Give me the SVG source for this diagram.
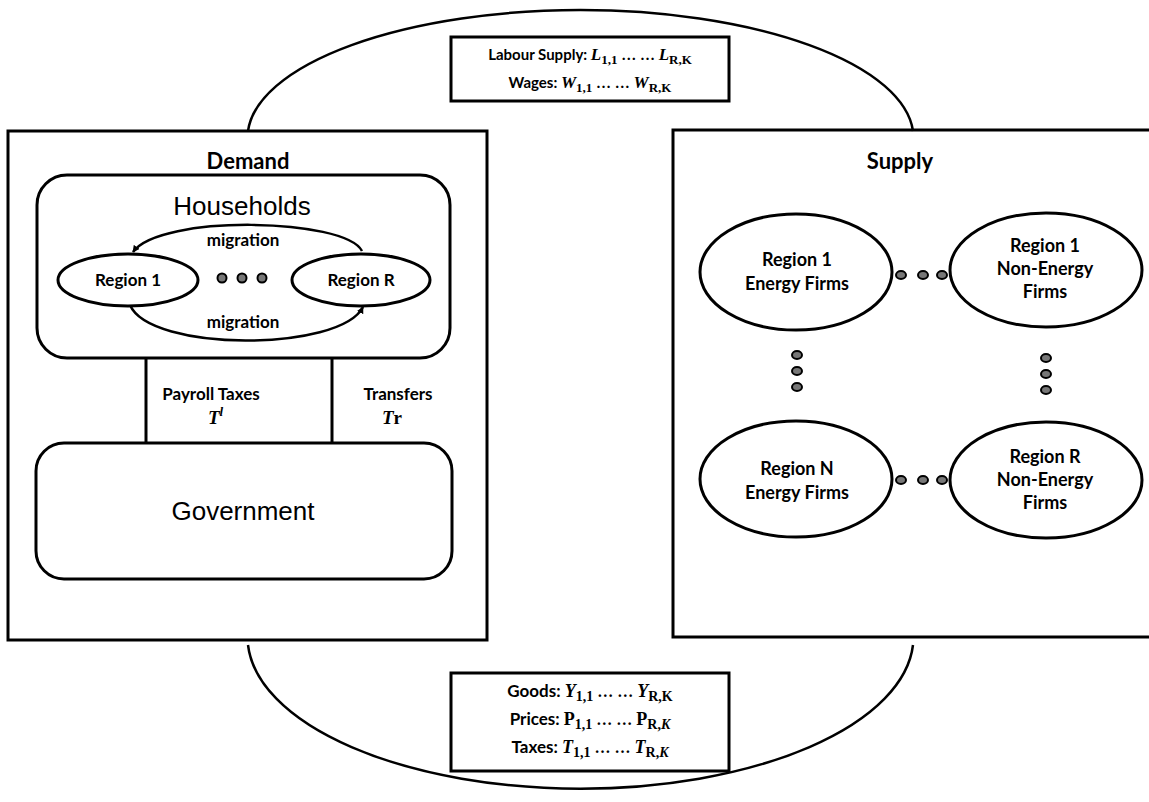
<svg xmlns="http://www.w3.org/2000/svg" width="1149" height="802" viewBox="0 0 1149 802">
<defs>
<style>
.box{fill:none;stroke:#000;stroke-width:3}
.ell{fill:#fff;stroke:#000;stroke-width:3}
.arc{fill:none;stroke:#000;stroke-width:2.5}
.b{font-family:Lato,"Open Sans","Liberation Sans",sans-serif;font-weight:bold;fill:#000;text-anchor:middle}
.big{font-family:"Liberation Sans",Arial,sans-serif;fill:#000;text-anchor:middle}
.m{font-family:"Liberation Serif","Times New Roman",serif;font-style:italic;font-weight:bold}
.r{font-family:"Liberation Serif","Times New Roman",serif;font-weight:bold}
.sub{font-family:"Liberation Serif","Times New Roman",serif;font-weight:bold}
.dot{fill:#777;stroke:#000;stroke-width:2}
</style>
<marker id="ah" viewBox="0 0 10 10" refX="9" refY="5" markerWidth="7" markerHeight="7" orient="auto" markerUnits="userSpaceOnUse">
<path d="M0,0 L10,5 L0,10 z" fill="#000"/>
</marker>
</defs>
<rect width="1149" height="802" fill="#fff"/>

<g id="connectors">
<path class="arc" d="M248,131 A333,128 0 0 1 913,131"/>
<path class="arc" d="M248,645 A333,152 0 0 0 913,645"/>
<line x1="146" y1="358" x2="146" y2="443" stroke="#000" stroke-width="3"/>
<line x1="332" y1="358" x2="332" y2="443" stroke="#000" stroke-width="3"/>
<path class="arc" d="M362,251 C345,218 160,214 133,252" marker-end="url(#ah)"/>
<path class="arc" d="M130,305 C150,352 340,352 363,307" marker-end="url(#ah)"/>
</g>

<g id="labour">
<rect class="box" x="451" y="37" width="278" height="64"/>
<text class="b" x="590" y="60" font-size="15">Labour Supply: <tspan class="m" font-size="17">L</tspan><tspan class="sub" font-size="13" dy="4">1,1</tspan><tspan class="r" font-size="15" dy="-4"> … … </tspan><tspan class="m" font-size="17">L</tspan><tspan class="sub" font-size="13" dy="4">R,K</tspan></text>
<text class="b" x="590" y="88" font-size="15">Wages: <tspan class="m" font-size="17">W</tspan><tspan class="sub" font-size="13" dy="4">1,1</tspan><tspan class="r" font-size="15" dy="-4"> … … </tspan><tspan class="m" font-size="17">W</tspan><tspan class="sub" font-size="13" dy="4">R,K</tspan></text>
</g>

<g id="goods">
<rect class="box" x="451" y="673" width="278" height="98"/>
<text class="b" x="590" y="697" font-size="17">Goods: <tspan class="m" font-size="18">Y</tspan><tspan class="sub" font-size="14" dy="4">1,1</tspan><tspan class="r" font-size="16" dy="-4"> … … </tspan><tspan class="m" font-size="18">Y</tspan><tspan class="sub" font-size="14" dy="4">R,K</tspan></text>
<text class="b" x="590" y="725" font-size="17">Prices: <tspan class="r" font-size="18">P</tspan><tspan class="sub" font-size="14" dy="4">1,1</tspan><tspan class="r" font-size="16" dy="-4">  … … </tspan><tspan class="r" font-size="18">P</tspan><tspan class="sub" font-size="14" dy="4">R,<tspan font-style="italic">K</tspan></tspan></text>
<text class="b" x="590" y="753" font-size="17">Taxes: <tspan class="m" font-size="18">T</tspan><tspan class="sub" font-size="14" dy="4">1,1</tspan><tspan class="r" font-size="16" dy="-4">  … … </tspan><tspan class="m" font-size="18">T</tspan><tspan class="sub" font-size="14" dy="4">R,<tspan font-style="italic">K</tspan></tspan></text>
</g>

<g id="demand">
<rect class="box" x="8" y="131" width="479" height="509"/>
<text class="b" x="248" y="169" font-size="22">Demand</text>
</g>

<g id="households">
<rect class="box" x="37" y="175" width="413" height="183" rx="30"/>
<text class="big" x="242" y="215" font-size="26">Households</text>
<text class="b" x="243" y="246" font-size="17">migration</text>
<text class="b" x="243" y="328" font-size="17">migration</text>
</g>

<g id="hh-region1">
<ellipse class="ell" cx="128" cy="280" rx="70" ry="26"/>
<text class="b" x="128" y="286" font-size="17">Region 1</text>
</g>
<g id="hh-dots">
<circle class="dot" cx="222" cy="278" r="4.5"/>
<circle class="dot" cx="242" cy="278" r="4.5"/>
<circle class="dot" cx="262" cy="278" r="4.5"/>
</g>
<g id="hh-regionR">
<ellipse class="ell" cx="361" cy="280" rx="69" ry="26"/>
<text class="b" x="361" y="286" font-size="17">Region R</text>
</g>

<g id="taxes-labels">
<text class="b" x="211" y="400" font-size="17">Payroll Taxes</text>
<text class="m" x="208" y="424" font-size="19">T<tspan dy="-8" font-size="13">l</tspan></text>
<text class="b" x="398" y="400" font-size="17">Transfers</text>
<text x="392" y="424" font-size="19" text-anchor="middle"><tspan class="m">T</tspan><tspan class="r">r</tspan></text>
</g>

<g id="government">
<rect class="box" x="36" y="443" width="416" height="136" rx="28"/>
<text class="big" x="243" y="520" font-size="26">Government</text>
</g>

<g id="supply">
<rect class="box" x="673" y="130" width="480" height="507"/>
<text class="b" x="900" y="169" font-size="22">Supply</text>
</g>

<g id="r1-energy">
<ellipse class="ell" cx="796" cy="272" rx="96" ry="58"/>
<text class="b" x="797" y="266" font-size="18">Region 1</text>
<text class="b" x="797" y="290" font-size="18">Energy Firms</text>
</g>
<g id="r1-nonenergy">
<ellipse class="ell" cx="1046" cy="270" rx="96" ry="57"/>
<text class="b" x="1045" y="252" font-size="18">Region 1</text>
<text class="b" x="1045" y="275" font-size="18">Non-Energy</text>
<text class="b" x="1045" y="298" font-size="18">Firms</text>
</g>
<g id="rN-energy">
<ellipse class="ell" cx="796" cy="479" rx="96" ry="58"/>
<text class="b" x="797" y="475" font-size="18">Region N</text>
<text class="b" x="797" y="499" font-size="18">Energy Firms</text>
</g>
<g id="rR-nonenergy">
<ellipse class="ell" cx="1046" cy="480" rx="96" ry="58"/>
<text class="b" x="1045" y="463" font-size="18">Region R</text>
<text class="b" x="1045" y="486" font-size="18">Non-Energy</text>
<text class="b" x="1045" y="509" font-size="18">Firms</text>
</g>
<g id="supply-dots">
<ellipse class="dot" cx="901" cy="275" rx="5" ry="4"/>
<ellipse class="dot" cx="923" cy="275" rx="5" ry="4"/>
<ellipse class="dot" cx="942" cy="275" rx="5" ry="4"/>
<ellipse class="dot" cx="901" cy="480" rx="5" ry="4"/>
<ellipse class="dot" cx="923" cy="480" rx="5" ry="4"/>
<ellipse class="dot" cx="942" cy="480" rx="5" ry="4"/>
<ellipse class="dot" cx="797" cy="355" rx="5" ry="4"/>
<ellipse class="dot" cx="797" cy="371" rx="5" ry="4"/>
<ellipse class="dot" cx="797" cy="387" rx="5" ry="4"/>
<ellipse class="dot" cx="1046" cy="358" rx="5" ry="4"/>
<ellipse class="dot" cx="1046" cy="374" rx="5" ry="4"/>
<ellipse class="dot" cx="1046" cy="390" rx="5" ry="4"/>
</g>
</svg>
